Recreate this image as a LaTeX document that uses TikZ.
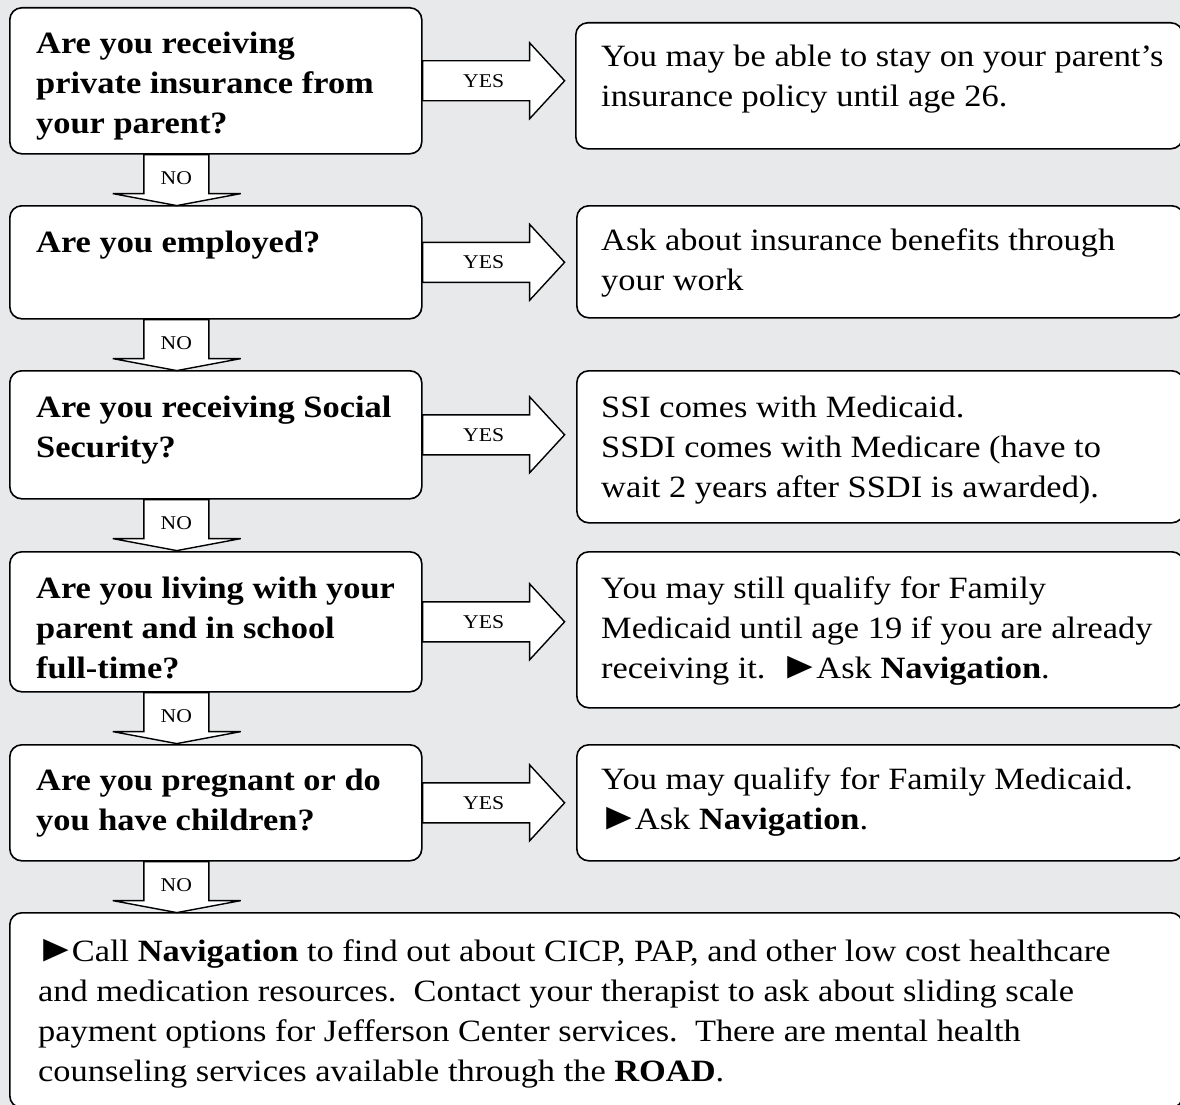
\documentclass[tikz,border=0pt]{standalone}
\usepackage{fontspec}
\setmainfont[FakeStretch=1.11]{Liberation Serif}
\usetikzlibrary{calc}
\definecolor{bg}{RGB}{232,233,235}
\newcommand{\mlines}[1]{\parbox[t]{1200pt}{\fontsize{31}{40}\selectfont\raggedright #1}}
\newcommand{\tri}{\leavevmode{\kern-3pt\fontsize{38}{40}\selectfont ►\kern-5pt}}
\tikzset{
  box/.style={draw, line width=1.6pt, rounded corners=12pt, fill=white, inner sep=0pt, anchor=north west},
  blk/.style={draw, line width=1.4pt, fill=white, line join=miter},
  txt/.style={anchor=base west, inner sep=0pt},
  lbl/.style={inner sep=0pt, font=\fontsize{19.5}{24}\selectfont},
}
\newcommand{\yesarrow}[2]{%
  \draw[blk] ($(#1.east)+(0,-20)$) -- ++(107,0) -- ++(0,-18) -- ++(35,38) -- ++(-35,38) -- ++(0,-18) -- ++(-107,0) -- cycle;
  \node[lbl] (#2) at ($(#1.east)+(61,0)$) {YES};}
\newcommand{\noarrow}[2]{%
  \draw[blk] ($(#1.south)+(-72,0)$) -- ++(0,39) -- ++(-31,0) -- ++(64,12) -- ++(64,-12) -- ++(-32,0) -- ++(0,-39) -- cycle;
  \node[lbl] (#2) at ($(#1.south)+(-39.5,24)$) {NO};}
\begin{document}
\begin{tikzpicture}[x=1pt,y=-1pt]
\useasboundingbox (0,0) rectangle (1180,1105);
\fill[bg] (0,0) rectangle (1180,1105);
\clip (0,0) rectangle (1180,1105);

% left question boxes
\node[box, minimum width=412pt, minimum height=146pt] (q1) at (9,7) {};
\node[box, minimum width=412pt, minimum height=113pt] (q2) at (9,205) {};
\node[box, minimum width=412pt, minimum height=128pt] (q3) at (9,370) {};
\node[box, minimum width=412pt, minimum height=140pt] (q4) at (9,551) {};
\node[box, minimum width=412pt, minimum height=116pt] (q5) at (9,744) {};
% right answer boxes
\node[box, minimum width=607pt, minimum height=126pt] (a1) at (575,22) {};
\node[box, minimum width=607pt, minimum height=112pt] (a2) at (576,205) {};
\node[box, minimum width=607pt, minimum height=152pt] (a3) at (576,370) {};
\node[box, minimum width=607pt, minimum height=156pt] (a4) at (576,551) {};
\node[box, minimum width=607pt, minimum height=116pt] (a5) at (576,744) {};
% final box
\node[box, minimum width=1173pt, minimum height=195pt] (fin) at (9,912) {};

% arrows
\yesarrow{q1}{y1}
\yesarrow{q2}{y2}
\yesarrow{q3}{y3}
\yesarrow{q4}{y4}
\yesarrow{q5}{y5}
\noarrow{q1}{n1}
\noarrow{q2}{n2}
\noarrow{q3}{n3}
\noarrow{q4}{n4}
\noarrow{q5}{n5}

% question texts
\node[txt] (tq1) at (36,54) {\mlines{\bfseries Are you receiving\\private insurance from\\your parent?}};
\node[txt] (tq2) at (36,252) {\mlines{\bfseries Are you employed?}};
\node[txt] (tq3) at (36,417) {\mlines{\bfseries Are you receiving Social\\Security?}};
\node[txt] (tq4) at (36,598) {\mlines{\bfseries Are you living with your\\parent and in school\\full-time?}};
\node[txt] (tq5) at (36,790) {\mlines{\bfseries Are you pregnant or do\\you have children?}};

% answer texts
\node[txt] (ta1) at (601,67) {\mlines{You may be able to stay on your parent’s\\insurance policy until age 26.}};
\node[txt] (ta2) at (601,250) {\mlines{Ask about insurance benefits through\\your work}};
\node[txt] (ta3) at (601,417) {\mlines{SSI comes with Medicaid.\\SSDI comes with Medicare (have to\\wait 2 years after SSDI is awarded).}};
\node[txt] (ta4) at (601,598) {\mlines{You may still qualify for Family\\Medicaid until age 19 if you are already\\receiving it.\ \ \tri Ask \textbf{Navigation}.}};
\node[txt] (ta5) at (601,789) {\mlines{You may qualify for Family Medicaid.\\\tri Ask \textbf{Navigation}.}};

% final text
\node[txt] (tf) at (38,961) {\mlines{\tri Call \textbf{Navigation} to find out about CICP, PAP, and other low cost healthcare\\and medication resources.\ \ Contact your therapist to ask about sliding scale\\payment options for Jefferson Center services.\ \ There are mental health\\counseling services available through the \textbf{ROAD}.}};
\end{tikzpicture}
\end{document}
